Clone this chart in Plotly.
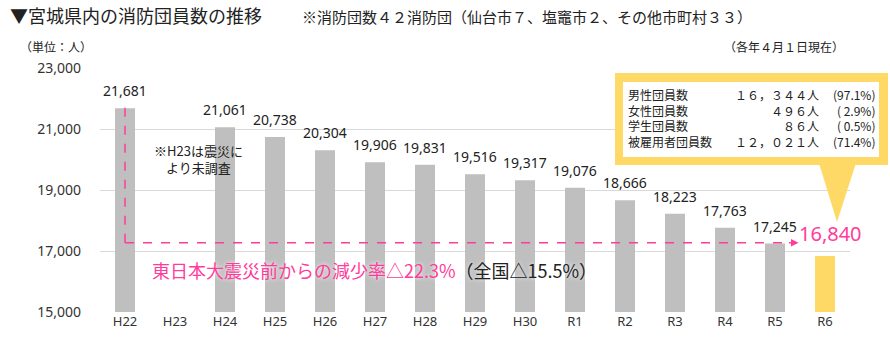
import plotly.graph_objects as go

categories = ["H22", "H23", "H24", "H25", "H26", "H27", "H28", "H29", "H30",
              "R1", "R2", "R3", "R4", "R5", "R6"]
members = [21681, None, 21061, 20738, 20304, 19906, 19831, 19516, 19317,
           19076, 18666, 18223, 17763, 17245, 16840]
y_ticks = [15000, 17000, 19000, 21000, 23000]

box_labels = ["男性団員数", "女性団員数", "学生団員数", "被雇用者団員数"]
box_counts = ["１６，３４４人", "４９６人", "８６人", "１２，０２１人"]
box_pcts = ["(97.1%)", "( 2.9%)", "( 0.5%)", "(71.4%)"]

title_text = "▼宮城県内の消防団員数の推移"
subtitle_text = "※消防団数４２消防団（仙台市７、塩竈市２、その他市町村３３）"
unit_text = "（単位：人）"
date_text = "（各年４月１日現在）"
note_text = "※H23は震災に<br>より未調査"
decline_text = "東日本大震災前からの減少率△22.3%"
national_text = "（全国△15.5%）"

GRAY = "#bfbfbf"
YELLOW = "#ffd966"
PINK = "#ff3c9b"
TXT = "#222222"
JP = "Noto Sans CJK JP"
NUM = "Noto Sans"

W, H = 890, 342
ML, MR, MT, MB = 100, 40, 68, 30
PW, PH = W - ML - MR, H - MT - MB


def px(x):
    return (x - ML) / PW


def py(y):
    return (H - MB - y) / PH


xs = list(range(len(categories)))
colors = [GRAY] * (len(categories) - 1) + [YELLOW]

fig = go.Figure()
fig.add_trace(go.Bar(
    x=xs, y=members, marker=dict(color=colors, line=dict(width=0)),
    width=0.4, hoverinfo="skip", showlegend=False,
))

annotations = []
for i, v in enumerate(members):
    if v is None:
        continue
    last = i == len(members) - 1
    annotations.append(dict(
        x=i, y=v, xref="x", yref="y", text=f"{v:,}", showarrow=False,
        yanchor="bottom", yshift=7 if last else 6, xshift=5 if last else 0,
        font=dict(family=NUM, size=20 if last else 14,
                  color=PINK if last else TXT),
    ))

# dashed line from H22 to R5 with arrow
base_level = 17270
top_level = 21850
shapes = [
    dict(type="line", xref="x", yref="y", x0=0, x1=0, y0=base_level, y1=top_level,
         line=dict(color=PINK, width=1.5, dash="dash")),
    dict(type="line", xref="x", yref="y", x0=0, x1=13.3, y0=base_level, y1=base_level,
         line=dict(color=PINK, width=1.5, dash="dash")),
]
annotations.append(dict(
    x=13.47, y=base_level, ax=13.25, ay=base_level, xref="x", yref="y",
    axref="x", ayref="y", showarrow=True, arrowhead=2, arrowsize=1,
    arrowwidth=1.5, arrowcolor=PINK, text="",
))

# info box with callout
shapes += [
    dict(type="path", xref="paper", yref="paper", layer="above",
         path=f"M {px(818)} {py(160)} L {px(857)} {py(160)} L {px(837)} {py(222)} Z",
         fillcolor=YELLOW, line=dict(width=0)),
    dict(type="rect", xref="paper", yref="paper", layer="above",
         x0=px(615), x1=px(888), y0=py(73), y1=py(165),
         fillcolor=YELLOW, line=dict(width=0)),
    dict(type="rect", xref="paper", yref="paper", layer="above",
         x0=px(623), x1=px(879), y0=py(82), y1=py(157),
         fillcolor="white", line=dict(width=0)),
]

box_font = dict(family=JP, size=12, color=TXT)
box_top = py(84)
annotations += [
    dict(xref="paper", yref="paper", x=px(626), y=box_top, xanchor="left",
         yanchor="top", align="left", showarrow=False,
         text="<br>".join(box_labels), font=box_font),
    dict(xref="paper", yref="paper", x=px(821), y=box_top, xanchor="right",
         yanchor="top", align="right", showarrow=False,
         text="<br>".join(box_counts), font=box_font),
    dict(xref="paper", yref="paper", x=px(877), y=box_top, xanchor="right",
         yanchor="top", align="right", showarrow=False,
         text="<br>".join(box_pcts), font=box_font),
]

# texts
annotations += [
    dict(xref="paper", yref="paper", x=px(8), y=py(15), xanchor="left",
         yanchor="middle", showarrow=False, text=title_text,
         font=dict(family=JP, size=18, color=TXT)),
    dict(xref="paper", yref="paper", x=px(300), y=py(16), xanchor="left",
         yanchor="middle", showarrow=False, text=subtitle_text,
         font=dict(family=JP, size=15, color=TXT)),
    dict(xref="paper", yref="paper", x=px(18), y=py(46), xanchor="left",
         yanchor="middle", showarrow=False, text=unit_text,
         font=dict(family=JP, size=12, color=TXT)),
    dict(xref="paper", yref="paper", x=px(846), y=py(47), xanchor="right",
         yanchor="middle", showarrow=False, text=date_text,
         font=dict(family=JP, size=12, color=TXT)),
    dict(xref="paper", yref="paper", x=px(198), y=py(159), xanchor="center",
         yanchor="middle", showarrow=False, text=note_text, align="center",
         font=dict(family=JP, size=13, color=TXT)),
    dict(xref="paper", yref="paper", x=px(150), y=py(270), xanchor="left",
         yanchor="middle", showarrow=False,
         text=f"{decline_text}<span style='color:{TXT}'>{national_text}</span>",
         font=dict(family=JP, size=18, color=PINK, shadow="0px 0px 4px white")),
]

fig.update_layout(
    width=W, height=H,
    margin=dict(l=ML, r=MR, t=MT, b=MB),
    paper_bgcolor="white", plot_bgcolor="white",
    bargap=0.6,
    xaxis=dict(
        tickmode="array", tickvals=xs, ticktext=categories,
        range=[-0.5, len(categories) - 0.5], showgrid=False, zeroline=False,
        showline=False, ticks="",
        tickfont=dict(family=NUM, size=13, color="#333333"),
    ),
    yaxis=dict(
        range=[15000, 23000], tickvals=y_ticks, tickformat=",",
        showgrid=True, gridcolor="#d9d9d9", gridwidth=1, zeroline=False,
        showline=False, ticks="", ticklabelstandoff=18,
        tickfont=dict(family=NUM, size=14, color="#333333"),
    ),
    shapes=shapes,
    annotations=annotations,
)

fig.write_html("out.html")
